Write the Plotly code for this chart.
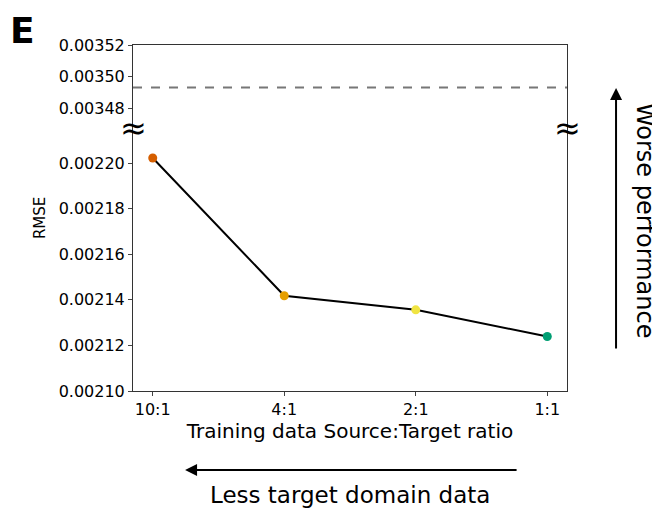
import plotly.graph_objects as go
from plotly.subplots import make_subplots

categories = ["10:1", "4:1", "2:1", "1:1"]
rmse = [0.0022022, 0.0021418, 0.0021356, 0.0021239]
point_colors = ["#D55E00", "#E69F00", "#F0E442", "#009E73"]
baseline_rmse = 0.003493
top_ticks = [0.00348, 0.00350, 0.00352]
bottom_ticks = [0.00210, 0.00212, 0.00214, 0.00216, 0.00218, 0.00220]

FONT = "DejaVu Sans"
x_idx = list(range(len(categories)))

fig = make_subplots(rows=2, cols=1, shared_xaxes=False, vertical_spacing=0,
                    row_heights=[0.237, 0.763])

fig.add_trace(go.Scatter(x=x_idx, y=rmse, mode="lines+markers",
                         line=dict(color="black", width=2),
                         marker=dict(color=point_colors, size=9),
                         showlegend=False, hoverinfo="y"), row=2, col=1)

# baseline dashed line in top panel
fig.add_shape(type="line", xref="x domain", yref="y", x0=0, x1=1,
              y0=baseline_rmse, y1=baseline_rmse,
              line=dict(color="#777777", width=2, dash="dash"))

xr = [-0.15, len(categories) - 1 + 0.15]
axis_line = dict(showline=True, linecolor="#333333", linewidth=1)

fig.update_xaxes(range=xr, showticklabels=False, ticks="", showgrid=False,
                 zeroline=False, side="top", row=1, col=1, **axis_line)
fig.update_xaxes(range=xr, tickmode="array", tickvals=x_idx, ticktext=categories,
                 ticks="outside", ticklen=4, showgrid=False, zeroline=False,
                 tickfont=dict(family=FONT, size=16, color="black"),
                 title=dict(text="Training data Source:Target ratio",
                            font=dict(family=FONT, size=20, color="black"), standoff=1),
                 row=2, col=1, **axis_line)
fig.update_yaxes(range=[0.003468, 0.00352], tickmode="array", tickvals=top_ticks,
                 tickformat=".5f", ticks="outside", ticklen=4, showgrid=False,
                 zeroline=False, mirror=True,
                 tickfont=dict(family=FONT, size=16, color="black"),
                 row=1, col=1, **axis_line)
fig.update_yaxes(range=[0.00210, 0.0022158], tickmode="array", tickvals=bottom_ticks,
                 tickformat=".5f", ticks="outside", ticklen=4, showgrid=False,
                 zeroline=False, mirror=True,
                 tickfont=dict(family=FONT, size=16, color="black"),
                 row=2, col=1, **axis_line)

break_y = 0.760
for xp in [0, 1]:
    fig.add_annotation(text="≈", xref="paper", yref="paper", x=xp, y=break_y,
                       showarrow=False, font=dict(family=FONT, size=32, color="black"),
                       xanchor="center", yanchor="middle")

# panel label
fig.add_annotation(text="<b>E</b>", xref="paper", yref="paper", x=-0.2546, y=1.043,
                   showarrow=False, xanchor="center", yanchor="middle",
                   font=dict(family=FONT, size=36, color="black"))
# RMSE label
fig.add_annotation(text="RMSE", xref="paper", yref="paper", x=-0.214, y=0.5,
                   showarrow=False, textangle=-90, xanchor="center", yanchor="middle",
                   font=dict(family=FONT, size=15, color="black"))

# bottom arrow and text
fig.add_annotation(x=0.12, y=-0.228, ax=333, ay=0, xref="paper", yref="paper",
                   text="", showarrow=True,
                   arrowhead=2, arrowsize=1.2, arrowwidth=2, arrowcolor="black")
fig.add_annotation(text="Less target domain data", xref="paper", yref="paper",
                   x=0.5, y=-0.30, showarrow=False, xanchor="center", yanchor="middle",
                   font=dict(family=FONT, size=23, color="black"))

# right arrow and text
fig.add_annotation(x=1.113, y=0.876, ax=0, ay=262, xref="paper", yref="paper",
                   text="", showarrow=True,
                   arrowhead=2, arrowsize=1.2, arrowwidth=2, arrowcolor="black")
fig.add_annotation(text="Worse performance", xref="paper", yref="paper",
                   x=1.18, y=0.494, showarrow=False, textangle=90,
                   xanchor="center", yanchor="middle",
                   font=dict(family=FONT, size=24, color="black"))

fig.update_layout(width=652, height=506, margin=dict(l=125, r=93, t=37, b=123),
                  paper_bgcolor="white", plot_bgcolor="white",
                  font=dict(family=FONT, color="black"))

fig.write_html("out.html")
